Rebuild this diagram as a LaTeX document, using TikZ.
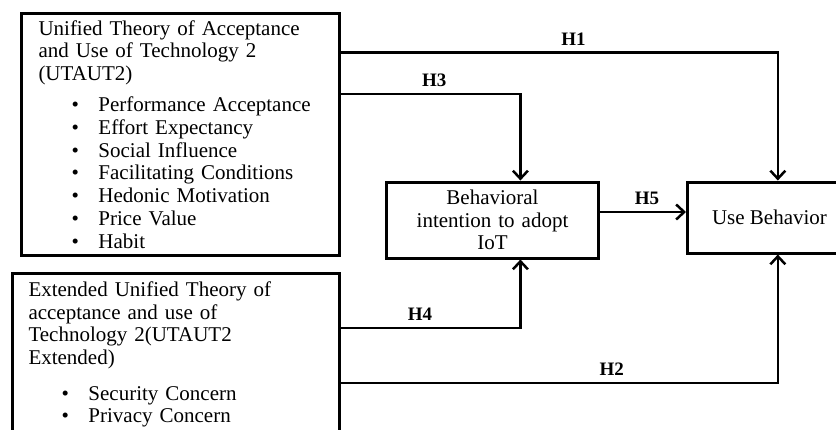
\documentclass[tikz,border=0pt]{standalone}
\usepackage{fontspec}
\setmainfont{Liberation Serif}
\usetikzlibrary{positioning}
\usetikzlibrary{calc}
\usetikzlibrary{arrows.meta}

\newcommand{\bitem}[2]{\hspace*{#1}\makebox[27pt][l]{\textbullet}#2}

\begin{document}
\begin{tikzpicture}[x=1pt, y=-1pt, line width=2.5pt,
        box/.style={rectangle, draw, line width=3pt, font=\fontsize{21}{22.8}\selectfont},
        arr/.style={-{Straight Barb[length=8pt, width=15pt, line width=2.5pt]}},
        hlabel/.style={above, inner sep=6pt, font=\fontsize{19}{20}\selectfont\bfseries}]

        \clip (0,0) rectangle (836,429);
        \useasboundingbox (0,0) rectangle (836,429);

        % Nodes
        \node (U) [box, anchor=north west, minimum width=318pt, minimum height=242pt, inner xsep=16pt, text width=284pt, align=left] at (20,12)
                    {Unified Theory of Acceptance\\ and Use of Technology 2\\ (UTAUT2)\\[8pt]
                    \bitem{33pt}{Performance Acceptance}\\ \bitem{33pt}{Effort Expectancy}\\
                    \bitem{33pt}{Social Influence}\\ \bitem{33pt}{Facilitating Conditions}\\
                    \bitem{33pt}{Hedonic Motivation}\\ \bitem{33pt}{Price Value}\\ \bitem{33pt}{Habit}};

        \node (E) [box, anchor=north west, minimum width=327pt, inner xsep=15pt, inner ysep=8pt, text width=295pt, align=left] at (11,272)
                    {Extended Unified Theory of\\ acceptance and use of\\ Technology 2(UTAUT2\\ Extended)\\[13pt]
                    \bitem{33pt}{Security Concern}\\[-1pt] \bitem{33pt}{Privacy Concern}};

        \node (BI) [box, minimum width=211pt, minimum height=76pt, text width=205pt, align=center] at (492.5,220)
                    {Behavioral\\ intention to adopt\\ IoT};

        \node (UB) [box, anchor=west, minimum width=164pt, minimum height=71pt, align=center] at (686,217.5)
                    {Use Behavior};

        % Arrows
        \draw[arr] ($(U.north east)!0.165!(U.south east)$) -| node[hlabel, pos=0.266] {H1} ($(UB.north west)!0.55!(UB.north east)$);
        \draw[arr] ($(U.north east)!0.335!(U.south east)$) -| node[hlabel, pos=0.26] {H3} ($(BI.north west)!0.63!(BI.north east)$);
        \draw[arr] ([yshift=-56pt]E.north east) -| node[hlabel, pos=0.22] {H4} ($(BI.south west)!0.63!(BI.south east)$);
        \draw[arr] ([yshift=-111pt]E.north east) -| node[hlabel, pos=0.31] {H2} ($(UB.south west)!0.55!(UB.south east)$);
        \draw[arr] ([yshift=8pt]BI.east) -- node[hlabel, midway, xshift=4pt] {H5} ([yshift=8pt]BI.east -| UB.west);

\end{tikzpicture}
\end{document}
